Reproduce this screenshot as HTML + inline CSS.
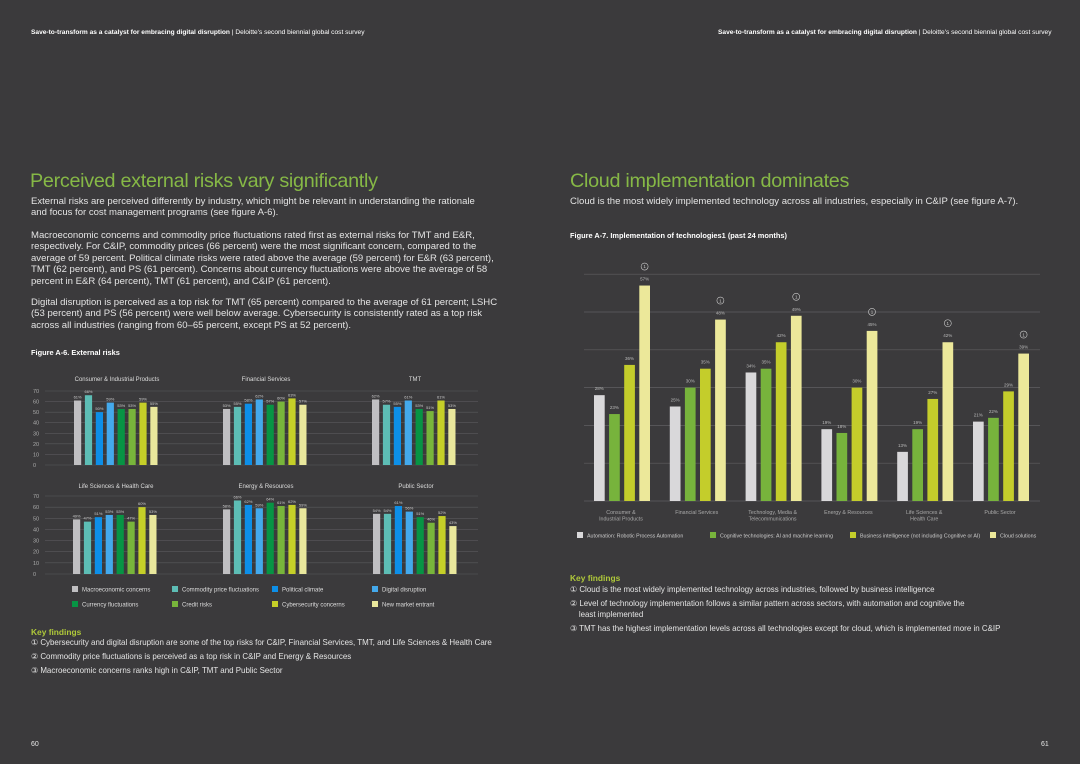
<!DOCTYPE html>
<html><head><meta charset="utf-8"><style>
body{margin:0;width:1080px;height:764px;background:#3b3a3c;font-family:"Liberation Sans",sans-serif;color:#e6e6e6;position:relative;overflow:hidden}
.a{position:absolute;white-space:nowrap}
.hdr{font-size:6.6px;color:#fff;top:29px}
.ttl{font-size:19.8px;color:#86b846;font-weight:300;letter-spacing:-0.3px}
.p{font-size:9.55px;line-height:11.4px;color:#e4e4e4}
.b{font-weight:bold;font-size:7.4px;color:#fff}
.kf{font-size:8.4px;color:#b0c93a;font-weight:bold}
.ki{font-size:7.95px;color:#e4e4e4;line-height:11px}
svg text{font-family:"Liberation Sans",sans-serif}
</style></head><body>
<div class="a hdr" style="left:31px"><b>Save-to-transform as a catalyst for embracing digital disruption</b> | Deloitte's second biennial global cost survey</div>
<div class="a hdr" style="left:718px"><b>Save-to-transform as a catalyst for embracing digital disruption</b> | Deloitte's second biennial global cost survey</div>
<div class="a ttl" style="left:30px;top:170px">Perceived external risks vary significantly</div>
<div class="a ttl" style="left:570px;top:170px">Cloud implementation dominates</div>
<div class="a p" style="left:31px;top:196px">External risks are perceived differently by industry, which might be relevant in understanding the rationale<br>and focus for cost management programs (see figure A-6).</div>
<div class="a p" style="left:31px;top:230px">Macroeconomic concerns and commodity price fluctuations rated first as external risks for TMT and E&amp;R,<br>respectively. For C&amp;IP, commodity prices (66 percent) were the most significant concern, compared to the<br>average of 59 percent. Political climate risks were rated above the average (59 percent) for E&amp;R (63 percent),<br>TMT (62 percent), and PS (61 percent). Concerns about currency fluctuations were above the average of 58<br>percent in E&amp;R (64 percent), TMT (61 percent), and C&amp;IP (61 percent).</div>
<div class="a p" style="left:31px;top:297px">Digital disruption is perceived as a top risk for TMT (65 percent) compared to the average of 61 percent; LSHC<br>(53 percent) and PS (56 percent) were well below average. Cybersecurity is consistently rated as a top risk<br>across all industries (ranging from 60–65 percent, except PS at 52 percent).</div>
<div class="a b" style="left:31px;top:348px">Figure A-6. External risks</div>
<div class="a p" style="left:570px;top:196px">Cloud is the most widely implemented technology across all industries, especially in C&amp;IP (see figure A-7).</div>
<div class="a b" style="left:570px;top:231px">Figure A-7. Implementation of technologies1 (past 24 months)</div>

<svg id="chart" class="a" style="left:0;top:0" width="1080" height="764"></svg>

<div class="a kf" style="left:31px;top:627px">Key findings</div>
<div class="a ki" style="left:31px;top:637px">① Cybersecurity and digital disruption are some of the top risks for C&amp;IP, Financial Services, TMT, and Life Sciences &amp; Health Care<br><span style="line-height:17px">② Commodity price fluctuations is perceived as a top risk in C&amp;IP and Energy &amp; Resources</span><br>③ Macroeconomic concerns ranks high in C&amp;IP, TMT and Public Sector</div>
<div class="a kf" style="left:570px;top:573px">Key findings</div>
<div class="a ki" style="left:570px;top:584px">① Cloud is the most widely implemented technology across industries, followed by business intelligence<br><span style="display:inline-block;margin-top:3px">② Level of technology implementation follows a similar pattern across sectors, with automation and cognitive the<br>&nbsp;&nbsp;&nbsp;&nbsp;least implemented</span><br><span style="display:inline-block;margin-top:3px">③ TMT has the highest implementation levels across all technologies except for cloud, which is implemented more in C&amp;IP</span></div>
<div class="a" style="left:31px;top:741px;font-size:7px">60</div>
<div class="a" style="left:1041px;top:741px;font-size:7px">61</div>

<script>
const riskSeries=["Macroeconomic concerns","Commodity price fluctuations","Political climate","Digital disruption","Currency fluctuations","Credit risks","Cybersecurity concerns","New market entrant"];
const riskColors=["#c0bfc2","#5dbdb5","#0d8fe8","#44a9ec","#079444","#78b53b","#c5cf28","#e9e79c"];
const riskIndustries=["Consumer & Industrial Products","Financial Services","TMT","Life Sciences & Health Care","Energy & Resources","Public Sector"];
const riskCIP=[61,66,50,59,53,53,59,55];
const riskFS=[53,55,58,62,57,60,63,57];
const riskTMT=[62,57,55,61,53,51,61,53];
const riskLSHC=[49,47,51,53,53,47,60,53];
const riskER=[58,66,62,59,64,61,62,59];
const riskPS=[54,54,61,56,51,46,52,43];
const riskTicks=[0,10,20,30,40,50,60,70];
const techSeries=["Automation: Robotic Process Automation","Cognitive technologies: AI and machine learning","Business intelligence (not including Cognitive or AI)","Cloud solutions"];
const techColors=["#d9d8da","#77b33c","#c4cd2b","#ece89a"];
const techIndustries=[["Consumer &","Industrial Products"],["Financial Services"],["Technology, Media &","Telecommunications"],["Energy & Resources"],["Life Sciences &","Health Care"],["Public Sector"]];
const techAuto=[28,25,34,19,13,21];
const techCog=[23,30,35,18,19,22];
const techBI=[36,35,42,30,27,29];
const techCloud=[57,48,49,45,42,39];
const techTicks=[0,10,20,30,40,50,60];

const svg=document.getElementById('chart');
const NS="http://www.w3.org/2000/svg";
function mk(t,a,p){const e=document.createElementNS(NS,t);for(const k in a)e.setAttribute(k,a[k]);(p||svg).appendChild(e);return e;}
function txt(x,y,s,size,fill,anchor){const e=mk('text',{x:x,y:y,'font-size':size,fill:fill,'text-anchor':anchor||'start'});e.textContent=s;return e;}

const panels=[[riskCIP,74,0],[riskFS,223,0],[riskTMT,372,0],[riskLSHC,73,1],[riskER,223,1],[riskPS,373,1]];
const rows=[{y0:465,h:74},{y0:574,h:78}];
rows.forEach((r,ri)=>{
  const ys=v=>r.y0-v/70*r.h;
  riskTicks.forEach(t=>{
    const g=mk('line',{x1:45,x2:478,y1:ys(t),y2:ys(t),stroke:'#5a595c','stroke-width':0.6});
    
    
    const l=txt(33,ys(t)+2,String(t),5.5,'#aaa');
    
    
  });
});
panels.forEach((p,pi)=>{
  const r=rows[p[2]];const ys=v=>r.y0-v/70*r.h;
  const t=txt(p[1]+43,r.y0-r.h-7+(p[2]?-1:-3),riskIndustries[pi],6,'#ddd','middle');
  
  
  p[0].forEach((v,i)=>{
    const x=p[1]+i*10.9;
    const b=mk('rect',{x:x,y:ys(v),width:7.2,height:r.y0-ys(v),fill:riskColors[i]});
    
    
    const l=txt(x+3.6,ys(v)-2,v+'%',4,'#ccc','middle');
    
    
  });
});
riskSeries.forEach((s,i)=>{
  const x=72+(i%4)*100,y=i<4?586:601;
  const sw=mk('rect',{x:x,y:y,width:6,height:6,fill:riskColors[i]});
  
  
  const l=txt(x+10,y+5.5,s,6,'#ddd');
  
  
});

const ty0=501,tyh=37.8;
const ty=v=>ty0-v/10*tyh;
techTicks.forEach(t=>{
  const g=mk('line',{x1:584,x2:1040,y1:ty(t),y2:ty(t),stroke:'#5f5e61','stroke-width':0.7});
  
  
});
const techData=[techAuto,techCog,techBI,techCloud];
techIndustries.forEach((ind,gi)=>{
  const gx=594+gi*75.8;
  techData.forEach((arr,si)=>{
    const v=arr[gi],x=gx+si*15.1;
    const b=mk('rect',{x:x,y:ty(v),width:10.7,height:ty0-ty(v),fill:techColors[si]});
    
    
    const l=txt(x+5.3,ty(v)-5,v+'%',4.5,'#bbb','middle');
    
    
  });
  const cx=gx+3*15.1+5.3,cy=ty(techCloud[gi])-19;
  const c=mk('circle',{cx:cx,cy:cy,r:3.5,fill:'none',stroke:'#ccc','stroke-width':0.6});
  
  
  const ct=txt(cx,cy+1.7,'1',4.5,'#ccc','middle');
  
  
  ind.forEach((s,li)=>{
    const l=txt(gx+27,514+li*6.5,s,5.3,'#aaa','middle');
    
    
  });
});
const lx=[577,710,850,990];
techSeries.forEach((s,i)=>{
  const sw=mk('rect',{x:lx[i],y:532,width:6,height:6,fill:techColors[i]});
  
  
  const l=txt(lx[i]+10,537.5,s,5.3,'#ccc');
  
  
});
</script>
</body></html>
